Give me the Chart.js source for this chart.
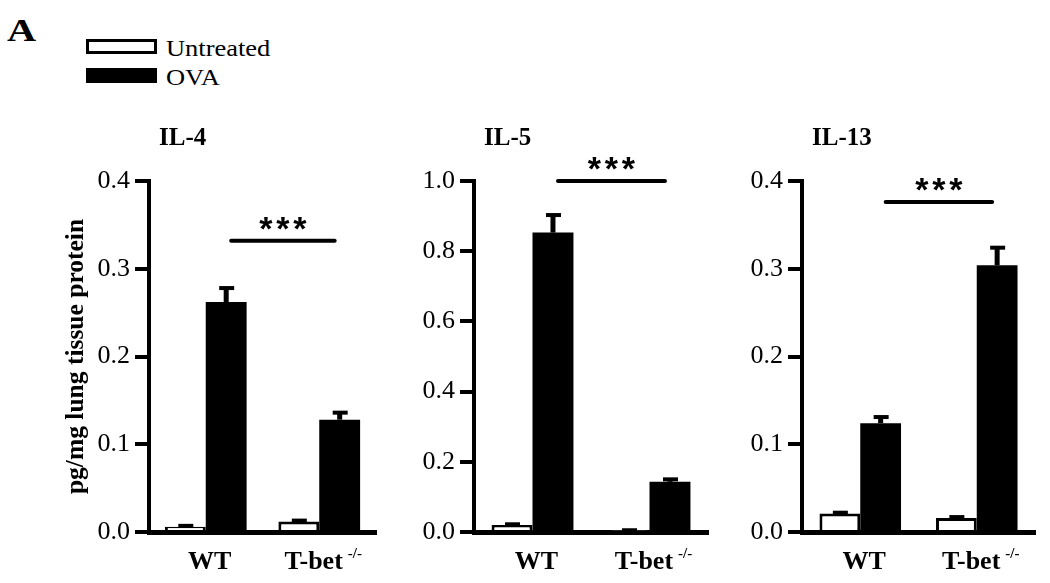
<!DOCTYPE html>
<html><head><meta charset="utf-8">
<script src="https://cdn.jsdelivr.net/npm/chart.js@4.4.0/dist/chart.umd.min.js"></script>
<style>
html,body{margin:0;padding:0;background:#fff;}
#wrap{position:relative;width:1050px;height:583px;overflow:hidden;background:#fff;}
canvas{position:absolute;left:0;top:0;}
.t{position:absolute;font-family:'Liberation Serif','Times New Roman',serif;line-height:1;white-space:nowrap;color:#000;}
.box{position:absolute;box-sizing:border-box;}
</style></head><body>
<div id="wrap">
  <div class="t" style="left:7px;top:15px;font-size:31px;font-weight:bold;transform:scaleX(1.3);transform-origin:left top;">A</div>
  <div id="legend"></div>
  <canvas id="c1" width="1050" height="583"></canvas>
  <canvas id="c2" width="1050" height="583"></canvas>
  <canvas id="c3" width="1050" height="583"></canvas>
</div>
<script>
// ---------- data ----------
const seriesNames = ['Untreated', 'OVA'];
const groups = ['WT', 'T-bet'];
const groupSup = ['', '-/-'];
const panelTitles = ['IL-4', 'IL-5', 'IL-13'];
const yAxisTitle = 'pg/mg lung tissue protein';

const il4Untreated = [0.006, 0.012];
const il4UntreatedErr = [0.001, 0.001];
const il4OVA = [0.262, 0.128];
const il4OVAErr = [0.016, 0.008];

const il5Untreated = [0.020, 0.004];
const il5UntreatedErr = [0.002, 0.001];
const il5OVA = [0.853, 0.143];
const il5OVAErr = [0.050, 0.007];

const il13Untreated = [0.021, 0.016];
const il13UntreatedErr = [0.001, 0.001];
const il13OVA = [0.124, 0.304];
const il13OVAErr = [0.007, 0.020];

const il4Ticks = ['0.0', '0.1', '0.2', '0.3', '0.4'];
const il5Ticks = ['0.0', '0.2', '0.4', '0.6', '0.8', '1.0'];
const il13Ticks = ['0.0', '0.1', '0.2', '0.3', '0.4'];
const yMax = [0.4, 1.0, 0.4];
const yStep = [0.1, 0.2, 0.1];

const sigLevel = [0.332, 1.0, 0.376];
const sigLabel = ['***', '***', '***'];

// ---------- legend ----------
(function(){
  const lg = document.getElementById('legend');
  const tops = [39, 68];
  seriesNames.forEach((n, i) => {
    const b = document.createElement('div');
    b.className = 'box';
    b.style.cssText = `left:86px;top:${tops[i]}px;width:71px;height:15px;` +
      (i === 0 ? 'border:3px solid #000;background:#fff;' : 'background:#000;');
    lg.appendChild(b);
    const t = document.createElement('div');
    t.className = 't';
    t.style.cssText = `left:166px;top:${tops[i] - 2}px;font-size:23px;transform:scaleX(1.15);transform-origin:left top;`;
    t.textContent = n;
    lg.appendChild(t);
  });
})();

const SERIF = "'Liberation Serif', 'Times New Roman', serif";
Chart.defaults.font.family = SERIF;
Chart.defaults.color = '#000';

const annot = {
  id: 'annot',
  afterDatasetsDraw(chart, args, o) {
    const ctx = chart.ctx, ys = chart.scales.y, xs = chart.scales.x, ca = chart.chartArea;
    ctx.save();
    ctx.strokeStyle = '#000';
    ctx.fillStyle = '#000';
    // error bars
    chart.data.datasets.forEach((ds, di) => {
      const meta = chart.getDatasetMeta(di);
      meta.data.forEach((bar, i) => {
        const e = ds.errors[i];
        const top = ys.getPixelForValue(ds.data[i] + e);
        ctx.lineWidth = 5;
        ctx.beginPath(); ctx.moveTo(bar.x, bar.y); ctx.lineTo(bar.x, top); ctx.stroke();
        ctx.lineWidth = 4;
        ctx.beginPath(); ctx.moveTo(bar.x - 7, top); ctx.lineTo(bar.x + 8, top); ctx.stroke();
      });
    });
    // significance line
    const m = chart.getDatasetMeta(1);
    const x1 = m.data[0].x + 5, x2 = m.data[1].x - 5;
    const ly = ys.getPixelForValue(o.sigLevel);
    ctx.lineWidth = 4; ctx.lineCap = 'round';
    ctx.beginPath(); ctx.moveTo(x1, ly); ctx.lineTo(x2, ly); ctx.stroke();
    ctx.lineCap = 'butt';
    ctx.font = "bold 34px 'Liberation Sans', Arial, sans-serif";
    ctx.textAlign = 'center'; ctx.textBaseline = 'alphabetic';
    const cx = (x1 + x2) / 2, sp = 17, n = o.sigLabel.length;
    for (let k = 0; k < n; k++) {
      ctx.fillText(o.sigLabel[k], cx + (k - (n - 1) / 2) * sp, ly - 1);
    }
    // panel title
    ctx.font = 'bold 25px ' + SERIF;
    ctx.textAlign = 'left';
    ctx.fillText(o.title, ca.left + 10, 145);
    // x labels with superscript
    groups.forEach((g, i) => {
      const px = xs.getPixelForValue(i);
      ctx.font = 'bold 26px ' + SERIF;
      const w1 = ctx.measureText(g).width;
      let w2 = 0;
      if (groupSup[i]) { ctx.font = 'bold 15px ' + SERIF; w2 = ctx.measureText(groupSup[i]).width + 5; }
      const left = px + 4 - (w1 + w2) / 2;
      ctx.font = 'bold 26px ' + SERIF;
      ctx.textAlign = 'left';
      ctx.fillText(g, left, 569);
      if (groupSup[i]) {
        ctx.font = 'bold 15px ' + SERIF;
        ctx.fillText(groupSup[i], left + w1 + 5, 558);
      }
    });
    ctx.restore();
  }
};

function makeChart(id, idx, untreated, untreatedErr, ova, ovaErr, ticks, geo) {
  return new Chart(document.getElementById(id), {
    type: 'bar',
    data: {
      labels: groups,
      datasets: [
        { label: seriesNames[0], data: untreated, errors: untreatedErr,
          backgroundColor: '#fff', borderColor: '#000', borderWidth: 3, borderSkipped: 'bottom' },
        { label: seriesNames[1], data: ova, errors: ovaErr,
          backgroundColor: '#000', borderColor: '#000', borderWidth: 0 }
      ]
    },
    options: {
      responsive: false, animation: false, devicePixelRatio: 1,
      layout: { padding: { left: geo.pl, right: geo.pr, top: 181, bottom: 11 } },
      datasets: { bar: { categoryPercentage: geo.cp, barPercentage: 1.0 } },
      plugins: {
        legend: { display: false }, title: { display: false }, tooltip: { enabled: false },
        annot: { title: panelTitles[idx], sigLevel: sigLevel[idx], sigLabel: sigLabel[idx] }
      },
      scales: {
        x: {
          type: 'category', offset: true,
          ticks: { display: false },
          grid: { display: false, drawTicks: false },
          border: { display: true, color: '#000', width: 5 },
          afterFit(s) { s.height = 40; }
        },
        y: {
          min: 0, max: yMax[idx],
          ticks: { stepSize: yStep[idx], color: '#000', padding: 5,
                   font: { size: 26, family: SERIF },
                   callback: (v, i) => ticks[i] },
          grid: { drawOnChartArea: false, drawTicks: true, tickLength: 14, color: '#000', lineWidth: 4 },
          border: { display: true, color: '#000', width: 4 },
          title: { display: idx === 0, text: yAxisTitle, color: '#000', padding: 0,
                   font: { size: 25.5, weight: 'bold', family: SERIF } },
          afterFit(s) { s.width = geo.yw; }
        }
      }
    },
    plugins: [annot]
  });
}

makeChart('c1', 0, il4Untreated, il4UntreatedErr, il4OVA, il4OVAErr, il4Ticks, { pl: 61, yw: 88, pr: 674, cp: 0.72 });
makeChart('c2', 1, il5Untreated, il5UntreatedErr, il5OVA, il5OVAErr, il5Ticks, { pl: 414, yw: 60, pr: 342, cp: 0.70 });
makeChart('c3', 2, il13Untreated, il13UntreatedErr, il13OVA, il13OVAErr, il13Ticks, { pl: 742, yw: 60, pr: 15, cp: 0.70 });
</script>
</body></html>
